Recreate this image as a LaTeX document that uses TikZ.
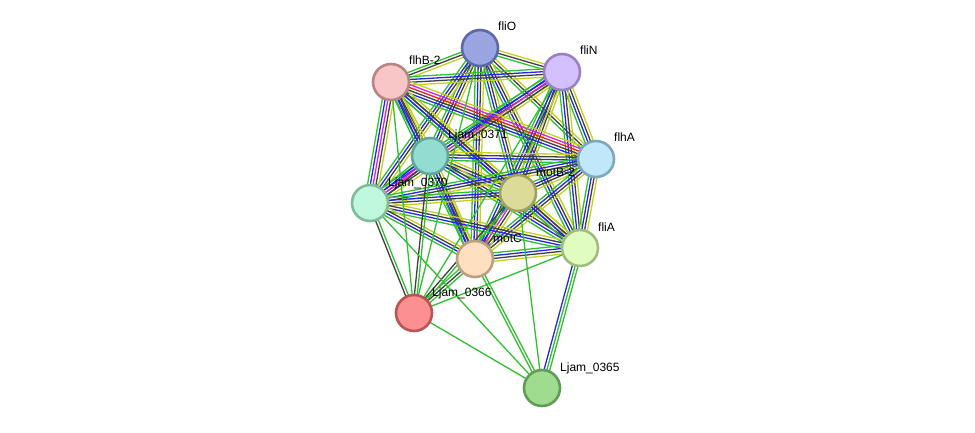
\documentclass[tikz,border=0pt]{standalone}
\usepackage{fontspec}
\setmainfont{Liberation Sans}
\usetikzlibrary{calc,backgrounds}
\definecolor{eG}{HTML}{30C030}
\definecolor{eK}{HTML}{404040}
\definecolor{eB}{HTML}{2525EE}
\definecolor{eY}{HTML}{C4D020}
\definecolor{eM}{HTML}{DD22DD}
\definecolor{eR}{HTML}{F02020}
\tikzset{
  prot/.style={circle, minimum size=36pt, inner sep=0pt, line width=2.6pt},
  plabel/.style={anchor=base west, inner sep=0pt, font=\fontsize{12}{14}\selectfont},
}
% #1,#2 node names; #3 number of lines; #4 colour letters
\newcommand\edge[4]{%
  \foreach \c [count=\i] in {#4}{%
    \pgfmathsetmacro\o{(\i-(#3+1)/2)*2.8}%
    \draw[color=e\c, line width=1.3pt]
      ($(#1.center)!\o pt!90:(#2.center)$) -- ($(#2.center)!\o pt!-90:(#1.center)$);
  }}
\begin{document}
\begin{tikzpicture}[x=1pt,y=-1pt]
\useasboundingbox (0,0) rectangle (975,433);
\node[prot, fill={rgb,255:red,154;green,164;blue,224}, draw={rgb,255:red,92;green,106;blue,170}] (fliO) at (480,48) {};
\node[prot, fill={rgb,255:red,212;green,192;blue,252}, draw={rgb,255:red,152;green,130;blue,198}] (fliN) at (562,72) {};
\node[prot, fill={rgb,255:red,248;green,198;blue,198}, draw={rgb,255:red,184;green,132;blue,132}] (flhB) at (391,82) {};
\node[prot, fill={rgb,255:red,146;green,220;blue,210}, draw={rgb,255:red,95;green,167;blue,156}] (L0371) at (430,156) {};
\node[prot, fill={rgb,255:red,192;green,232;blue,250}, draw={rgb,255:red,127;green,168;blue,189}] (flhA) at (596,159) {};
\node[prot, fill={rgb,255:red,220;green,219;blue,152}, draw={rgb,255:red,160;green,160;blue,100}] (motB) at (518,193) {};
\node[prot, fill={rgb,255:red,191;green,248;blue,220}, draw={rgb,255:red,128;green,188;blue,154}] (L0370) at (370,203) {};
\node[prot, fill={rgb,255:red,224;green,252;blue,192}, draw={rgb,255:red,160;green,188;blue,128}] (fliA) at (580,248) {};
\node[prot, fill={rgb,255:red,254;green,224;blue,192}, draw={rgb,255:red,188;green,160;blue,128}] (motC) at (475,259) {};
\node[prot, fill={rgb,255:red,252;green,144;blue,144}, draw={rgb,255:red,188;green,84;blue,84}] (L0366) at (414,313) {};
\node[prot, fill={rgb,255:red,160;green,220;blue,144}, draw={rgb,255:red,96;green,156;blue,84}] (L0365) at (542,388) {};

\begin{pgfonlayer}{background}
\edge{fliO}{fliN}{3}{G,K,Y}
\edge{fliO}{flhB}{3}{G,K,Y}
\edge{fliO}{L0371}{4}{G,B,K,Y}
\edge{fliO}{flhA}{3}{G,K,Y}
\edge{fliO}{motB}{4}{G,B,K,Y}
\edge{fliO}{L0370}{4}{G,B,K,Y}
\edge{fliO}{fliA}{4}{G,B,K,Y}
\edge{fliO}{motC}{4}{G,B,K,Y}
\edge{fliN}{flhB}{4}{G,B,K,Y}
\edge{fliN}{L0371}{4}{G,B,K,Y}
\edge{fliN}{L0370}{5}{G,B,M,K,Y}
\edge{fliN}{flhA}{4}{G,B,K,Y}
\edge{fliN}{motB}{4}{G,B,K,Y}
\edge{fliN}{fliA}{4}{G,B,K,Y}
\edge{fliN}{motC}{4}{G,B,K,Y}
\edge{flhB}{L0371}{4}{G,B,K,Y}
\edge{flhB}{flhA}{6}{G,B,K,R,M,Y}
\edge{flhB}{motB}{4}{G,B,K,Y}
\edge{flhB}{L0370}{5}{G,B,M,K,Y}
\edge{flhB}{fliA}{4}{G,B,K,Y}
\edge{flhB}{motC}{4}{G,B,K,Y}
\edge{L0371}{flhA}{4}{G,B,K,Y}
\edge{L0371}{motB}{4}{G,B,K,Y}
\edge{L0371}{L0370}{4}{G,B,M,K}
\edge{L0371}{fliA}{4}{G,B,K,Y}
\edge{L0371}{motC}{4}{G,B,K,Y}
\edge{flhA}{motB}{4}{G,B,K,Y}
\edge{flhA}{L0370}{4}{G,B,K,Y}
\edge{flhA}{fliA}{4}{G,B,K,Y}
\edge{flhA}{motC}{4}{G,B,K,Y}
\edge{motB}{L0370}{4}{G,B,K,Y}
\edge{motB}{fliA}{4}{G,B,K,Y}
\edge{motB}{motC}{5}{G,B,M,K,Y}
\edge{L0370}{fliA}{4}{G,B,K,Y}
\edge{L0370}{motC}{4}{G,B,K,Y}
\edge{fliA}{motC}{4}{G,B,K,Y}
\edge{L0366}{L0370}{2}{G,K}
\edge{L0366}{flhB}{1}{G}
\edge{L0366}{L0371}{2}{G,K}
\edge{L0366}{fliO}{1}{G}
\edge{L0366}{fliN}{1}{G}
\edge{L0366}{motB}{2}{G,K}
\edge{L0366}{motC}{3}{G,K,G}
\edge{L0366}{fliA}{1}{G}
\edge{L0365}{L0366}{1}{G}
\edge{L0365}{L0370}{1}{G}
\edge{L0365}{motC}{2}{G,G}
\edge{L0365}{motB}{1}{G}
\edge{L0365}{fliA}{3}{G,G,B}
\end{pgfonlayer}

\node[plabel] (t1) at ($(fliO.center)+(18,-17)$) {fliO};
\node[plabel] (t2) at ($(fliN.center)+(18,-17)$) {fliN};
\node[plabel] (t3) at ($(flhB.center)+(18,-17)$) {flhB-2};
\node[plabel] (t4) at ($(L0371.center)+(18,-17)$) {Ljam\_0371};
\node[plabel] (t5) at ($(flhA.center)+(18,-17)$) {flhA};
\node[plabel] (t6) at ($(motB.center)+(18,-17)$) {motB-2};
\node[plabel] (t7) at ($(L0370.center)+(18,-17)$) {Ljam\_0370};
\node[plabel] (t8) at ($(fliA.center)+(18,-17)$) {fliA};
\node[plabel] (t9) at ($(motC.center)+(18,-17)$) {motC};
\node[plabel] (t10) at ($(L0366.center)+(18,-17)$) {Ljam\_0366};
\node[plabel] (t11) at ($(L0365.center)+(18,-17)$) {Ljam\_0365};
\end{tikzpicture}
\end{document}
